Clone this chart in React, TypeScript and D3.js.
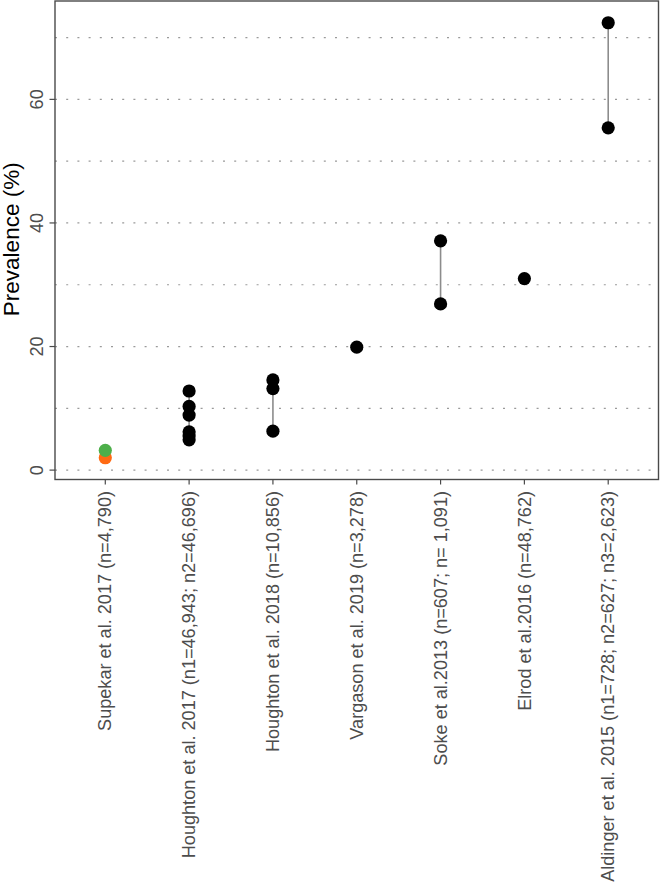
import React from "react";
import * as d3 from "d3";

const categories = [
  "Supekar et al. 2017 (n=4,790)",
  "Houghton et al. 2017 (n1=46,943; n2=46,696)",
  "Houghton et al. 2018 (n=10,856)",
  "Vargason et al. 2019 (n=3,278)",
  "Soke et al.2013 (n=607; n= 1,091)",
  "Elrod et al.2016 (n=48,762)",
  "Aldinger et al. 2015 (n1=728; n2=627; n3=2,623)",
];

const studyValues: number[][] = [
  [2.0, 3.2],
  [12.8, 10.3, 8.9, 6.2, 5.5, 4.9],
  [14.6, 13.2, 6.3],
  [19.9],
  [37.1, 26.9],
  [31.0],
  [72.4, 55.4],
];

const pointColors: (string | null)[][] = [
  ["#FF6A13", "#4DAF4A"],
  [null, null, null, null, null, null],
  [null, null, null],
  [null],
  [null, null],
  [null],
  [null, null],
];

const yTicks = [0, 20, 40, 60];
const gridValues = [0, 10, 20, 30, 40, 50, 60, 70];

const W = 661;
const H = 882;
const left = 55;
const right = 658.5;
const top = 1;
const bottom = 479.5;

export default function App() {
  const all = studyValues.flat();
  const lo = d3.min(all)!;
  const hi = d3.max(all)!;
  const pad = (hi - lo) * 0.05;
  const y = d3.scaleLinear().domain([lo - pad, hi + pad]).range([bottom, top]);
  const x = d3
    .scalePoint<string>()
    .domain(categories)
    .range([left, right])
    .padding(0.6);

  const font = "'Liberation Sans', Arial, Helvetica, sans-serif";
  const fs = 18.1;

  return (
    <svg
      width={W}
      height={H}
      style={{ position: "absolute", left: 0, top: 0, background: "#fff" }}
      fontFamily={font}
    >
      <rect x={0} y={0} width={W} height={H} fill="#fff" />
      {gridValues.map((g) => (
        <line
          key={"g" + g}
          x1={left}
          x2={right}
          y1={y(g)}
          y2={y(g)}
          stroke="#9a9a9a"
          strokeWidth={1.2}
          strokeDasharray="2 9.2"
        />
      ))}
      {categories.map((c, i) => {
        const vals = studyValues[i];
        const cx = x(c)!;
        return (
          <g key={c}>
            {vals.length > 1 && (
              <line
                x1={cx}
                x2={cx}
                y1={y(d3.min(vals)!)}
                y2={y(d3.max(vals)!)}
                stroke="#8c8c8c"
                strokeWidth={1.6}
              />
            )}
            {vals.map((v, j) => (
              <circle
                key={j}
                cx={cx}
                cy={y(v)}
                r={6.6}
                fill={pointColors[i][j] ?? "#000"}
              />
            ))}
          </g>
        );
      })}
      <rect
        x={left}
        y={top}
        width={right - left}
        height={bottom - top}
        fill="none"
        stroke="#4a4a4a"
        strokeWidth={1.4}
      />
      {yTicks.map((t) => (
        <g key={"t" + t}>
          <line x1={49.5} x2={left} y1={y(t)} y2={y(t)} stroke="#4a4a4a" strokeWidth={1.2} />
          <text
            transform={`translate(43,${y(t)}) rotate(-90)`}
            textAnchor="middle"
            fontSize={fs}
            fill="#4d4d4d"
          >
            {t}
          </text>
        </g>
      ))}
      {categories.map((c) => {
        const cx = x(c)!;
        return (
          <g key={"x" + c}>
            <line x1={cx} x2={cx} y1={bottom} y2={bottom + 5} stroke="#4a4a4a" strokeWidth={1.2} />
            <text
              transform={`translate(${cx + 6.2},${bottom + 11.5}) rotate(-90)`}
              textAnchor="end"
              fontSize={fs}
              fill="#4d4d4d"
            >
              {c}
            </text>
          </g>
        );
      })}
      <text
        transform={`translate(18.5,${(top + bottom) / 2 - 1}) rotate(-90)`}
        textAnchor="middle"
        fontSize={22.5}
        fill="#000"
      >
        Prevalence (%)
      </text>
    </svg>
  );
}
